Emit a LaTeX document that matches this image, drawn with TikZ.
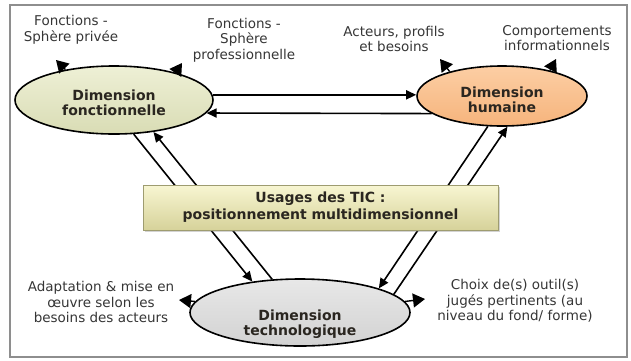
\documentclass[tikz,border=0pt]{standalone}
\usepackage{fontspec}
\setmainfont{DejaVu Sans}
\usetikzlibrary{arrows.meta, positioning, shapes.geometric, shadows}
\definecolor{fonTop}{HTML}{EEF0D6}
\definecolor{fonBot}{HTML}{D9DCB4}
\definecolor{humTop}{HTML}{FCCEA4}
\definecolor{humBot}{HTML}{F6B47C}
\definecolor{tecTop}{HTML}{E8E8E8}
\definecolor{tecBot}{HTML}{D2D2D2}
\definecolor{boxTop}{HTML}{F8F6D2}
\definecolor{boxBot}{HTML}{D6D29A}
\definecolor{boxLine}{HTML}{9E9C70}
\definecolor{frameGray}{HTML}{8E8E8E}
\definecolor{txtGray}{HTML}{363636}
\definecolor{txtDark}{HTML}{2A2620}

\begin{document}
\begin{tikzpicture}[x=1pt, y=-1pt,
      dim/.style={draw, ellipse, line width=1.6pt, inner sep=0pt},
      ttl/.style={align=center, inner sep=0pt, text=txtDark,
                  font=\fontsize{14}{15.5}\selectfont\bfseries},
      lab/.style={align=center, inner sep=0pt, text=txtGray,
                  font=\fontsize{13.5}{15.5}\selectfont},
      arr/.style={line width=1.6pt, -{Triangle[length=10pt,width=9pt]}},
      tip/.style={line width=1.4pt, -{Triangle[length=12pt,width=14pt]}}]
    \useasboundingbox (0,0) rectangle (631,360);
    \draw[frameGray, line width=1.5pt] (10,5) rectangle (627,357);
    \node[dim, minimum width=198pt, minimum height=68pt,
          top color=fonTop, bottom color=fonBot] (fon) at (114,100) {};
    \node[dim, minimum width=170pt, minimum height=60pt,
          top color=humTop, bottom color=humBot] (hum) at (502,96) {};
    \node[dim, minimum width=220pt, minimum height=67pt,
          top color=tecTop, bottom color=tecBot] (tec) at (300,312.5) {};
    \node[ttl] (fonT) at (114,103) {Dimension\\fonctionnelle};
    \node[ttl] (humT) at (502,100) {Dimension\\humaine};
    \node[ttl] (tecT) at (300,324) {Dimension\\technologique};
    \node[lab] (privee)  at (71,30)   {Fonctions -\\Sphère privée};
    \node[lab] (pro)     at (244,40)  {Fonctions -\\Sphère\\professionnelle};
    \node[lab] (acteurs) at (394,39)  {Acteurs, profils\\et besoins};
    \node[lab] (comport) at (557,38)  {Comportements\\informationnels};
    \node[lab] (adapt)   at (101,302) {Adaptation \& mise en\\œuvre selon les\\besoins des acteurs};
    \node[lab] (choix)   at (515,301) {Choix de(s) outil(s)\\jugés pertinents (au\\niveau du fond/ forme)};
    \coordinate (fonP) at (56,60);
    \coordinate (fonR) at (182,63);
    \coordinate (humP) at (440,59);
    \coordinate (humR) at (556,59);
    \coordinate (tecL) at (179,300);
    \coordinate (tecR) at (425,299);
    \draw[tip] (fon.148) -- (fonP);
    \draw[tip] (fon.24)  -- (fonR);
    \draw[tip] (hum.155) -- (humP);
    \draw[tip] (hum.28)  -- (humR);
    \draw[tip] (tec.174) -- (tecL);
    \draw[tip] (tec.6)   -- (tecR);
    \draw[arr] (fon.3) -- (fon.3 -| hum.west);
    \draw[arr] (hum.194) -- (fon.-8.3);
    \draw[arr] (fon.-60) -- (tec.147);
    \draw[arr] (tec.130) -- (fon.-39);
    \draw[arr] (hum.-115) -- (tec.17);
    \draw[arr] (tec.11) -- (hum.-80);
    \node[draw=boxLine, line width=1pt, top color=boxTop, bottom color=boxBot,
          drop shadow={opacity=0.35, shadow xshift=1.5pt, shadow yshift=-1.5pt},
          minimum width=355pt, minimum height=45pt, align=center, inner sep=0pt,
          text=txtDark, font=\fontsize{14}{17}\selectfont\bfseries] (usa)
          at (320.5,207.5) {Usages des TIC :\\positionnement multidimensionnel};
  \end{tikzpicture}
\end{document}
